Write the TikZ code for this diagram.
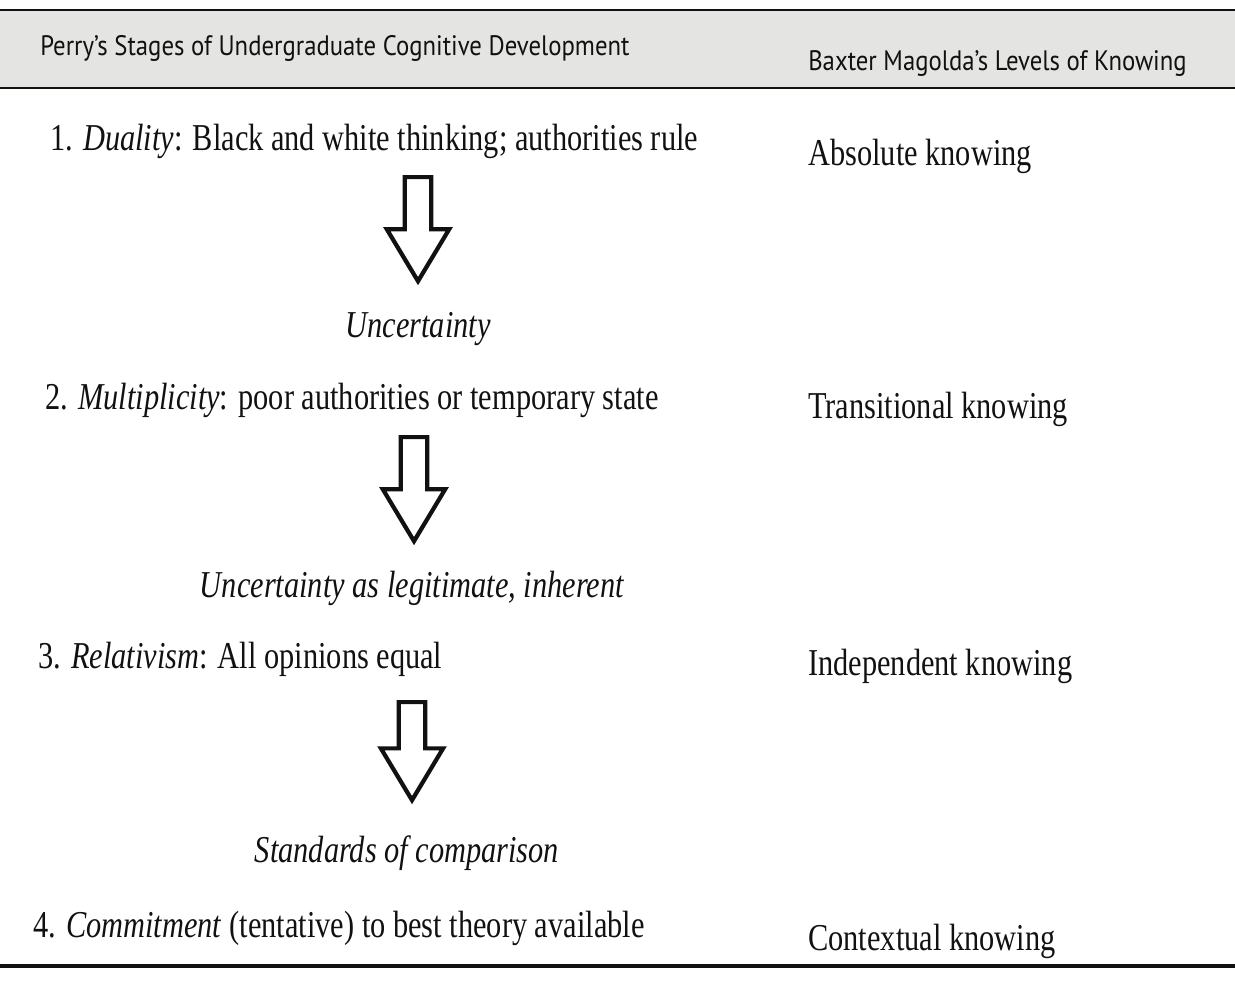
\documentclass[tikz,border=0pt]{standalone}
\usepackage{fontspec}
\setmainfont{Liberation Serif}[FakeStretch=0.8]
\setsansfont{PT Sans}[FakeStretch=0.88]
\usepackage{xcolor}
\usetikzlibrary{positioning,shapes.arrows}
\definecolor{PSInk}{HTML}{111111}
\definecolor{PSBand}{HTML}{E4E4E2}

\begin{document}
\begin{tikzpicture}[
  x=0.025cm,y=-0.025cm,
  head/.style={font=\sffamily\fontsize{20}{24}\selectfont,text=PSInk,inner sep=0pt,anchor=base west},
  stage/.style={font=\fontsize{27}{32}\selectfont,text=PSInk,inner sep=0pt,anchor=base west},
  level/.style={stage},
  transit/.style={font=\itshape\fontsize{27}{32}\selectfont,text=PSInk,inner sep=0pt,anchor=base},
  rule/.style={draw=PSInk,line width=2pt},
  blockarrow/.style={single arrow,draw=PSInk,line width=3pt,fill=white,shape border rotate=270,
    minimum height=2.6cm,minimum width=1.45cm,inner sep=0.28cm,
    single arrow head extend=0.445cm,single arrow tip angle=62,anchor=tail}
]
\useasboundingbox (0,0) rectangle (1235,988);
% header band
\fill[PSBand] (0,10) rectangle (1235,88);
\draw[rule] (0,10) -- (1235,10);
\draw[rule] (0,88) -- (1235,88);
\node[head] (hperry) at (40,55) {Perry’s Stages of Undergraduate Cognitive Development};
\node[head] (hbaxter) at (808,70) {Baxter Magolda’s Levels of Knowing};
% stages and levels
\node[stage] (s1) at (50,150) {1. \textit{Duality}: Black and white thinking; authorities rule};
\node[level] (k1) at (808,165) {Absolute knowing};
\node[blockarrow] (a1) at (418,175) {};
\node[transit] (t1) at (418,337) {Uncertainty};
\node[stage] (s2) at (45,409) {2. \textit{Multiplicity}: poor authorities or temporary state};
\node[level] (k2) at (808,418) {Transitional knowing};
\node[blockarrow] (a2) at (414,435) {};
\node[transit] (t2) at (412,597) {Uncertainty as legitimate, inherent};
\node[stage] (s3) at (38,668) {3. \textit{Relativism}: All opinions equal};
\node[level] (k3) at (808,675) {Independent knowing};
\node[blockarrow,minimum height=2.45cm] (a3) at (412,700) {};
\node[transit] (t3) at (407,862) {Standards of comparison};
\node[stage] (s4) at (33,937) {4. \textit{Commitment} (tentative) to best theory available};
\node[level] (k4) at (808,950) {Contextual knowing};
\draw[rule,line width=2.8pt] (0,966) -- (1235,966);
\end{tikzpicture}
\end{document}
